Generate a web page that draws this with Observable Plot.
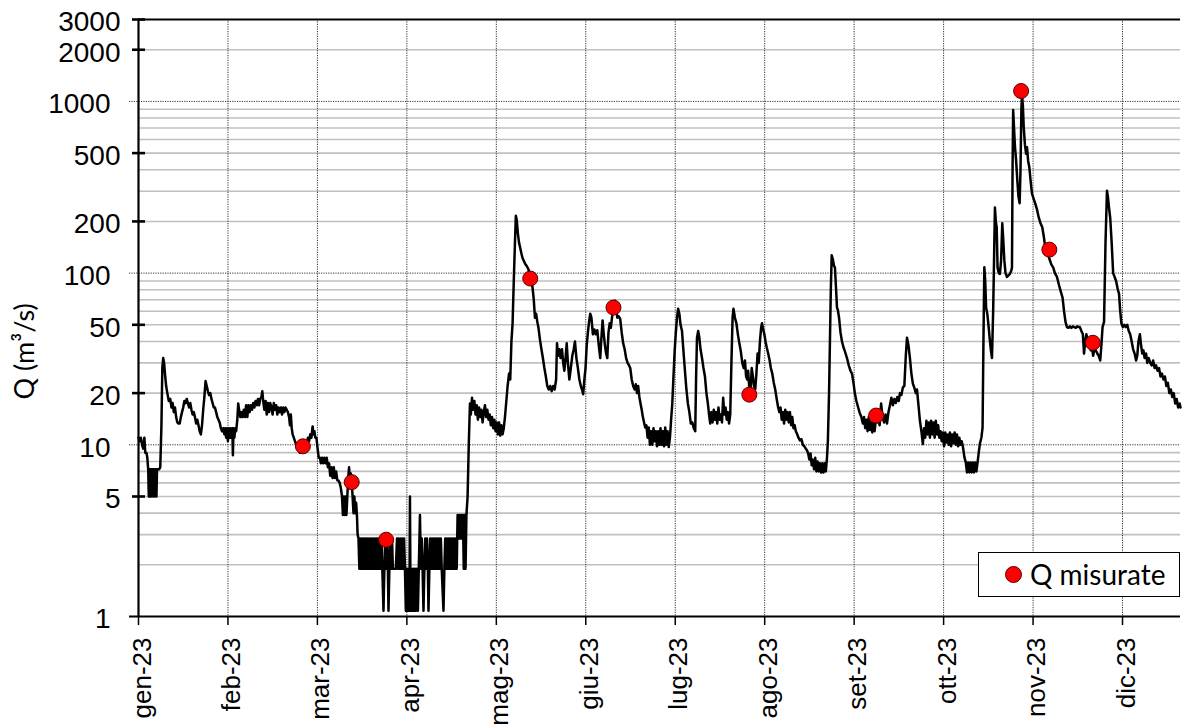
<!DOCTYPE html>
<html><head><meta charset="utf-8">
<script src="https://cdn.jsdelivr.net/npm/d3@7"></script>
<script src="https://cdn.jsdelivr.net/npm/@observablehq/plot@0.6"></script>
<style>
body{margin:0;background:#fff;}
#wrap{position:relative;width:1182px;height:724px;overflow:hidden;}
#legend{position:absolute;left:978px;top:552px;width:200px;height:43px;border:1px solid #000;background:#fff;font-family:Lato,"Open Sans",sans-serif;font-size:28px;color:#000;}
#legend .dot{position:absolute;left:26px;top:13px;width:15px;height:15px;border-radius:50%;background:#ff0000;border:1px solid #5a0000;}
#legend .lab{position:absolute;left:51px;top:2px;line-height:38px;white-space:nowrap;}
</style></head>
<body>
<div id="wrap"><div id="chart"></div>
<div id="legend"><span class="dot"></span><span class="lab">Q misurate</span></div>
</div>
<script>
// month tick labels (equally spaced, 365/12 days apart)
const mesi = ["gen-23","feb-23","mar-23","apr-23","mag-23","giu-23","lug-23","ago-23","set-23","ott-23","nov-23","dic-23"];
// y axis ticks
const yMajor = [1, 10, 100, 1000];
const yLabelsMinor = [5, 20, 50, 200, 500, 2000, 3000];
const yGridMinor = [2,3,4,5,6,7,8,9,20,30,40,50,60,70,80,90,200,300,400,500,600,700,800,900,2000];
// measured discharges: day of year, Q (m3/s)
const misGiorno = [55.9, 72.5, 84.2, 133.2, 161.5, 207.7, 250.8, 300.1, 309.7, 324.5];
const misQ = [9.8, 6.06, 2.8, 93, 63, 19.6, 14.8, 1150, 137, 39.3];
// continuous discharge record: [day of year, Q (m3/s)]
const portata = [
[0,11],[0.4,10.5],[0.8,11],[1.2,10],[1.6,9.5],[2,11],[2.3,9],[2.7,9],[3,8.4],[3.3,7.2],[3.5,5],[3.7,7.2],[3.9,5],[4.1,7.2],[4.3,5],[4.5,7.2],[4.8,7.2],[5,5],[5.2,7.2],[5.4,5],[5.6,7.2],[5.9,7.2],[6.1,5],[6.3,7.2],[6.6,7.2],[7,7.2],[7.4,7.4],[7.8,13],[8.1,28],[8.4,32],[8.7,30],[9,26],[9.4,22],[9.8,20],[10.3,18],[10.8,18.5],[11.2,16.5],[11.6,17.5],[12,15.5],[12.4,16.5],[12.8,14.5],[13.2,13.5],[13.6,13.3],[14,13.3],[14.4,14.5],[14.8,15.5],[15.2,16.5],[15.6,18],[16,17.5],[16.4,18.5],[16.8,17.5],[17.2,16.5],[17.6,17.5],[18,16],[18.4,15],[18.8,15.5],[19.2,14.5],[19.6,13.3],[20,14],[20.4,13],[20.8,12],[21.2,11.5],[21.6,13],[22,16],[22.4,19],[22.8,23.5],[23.2,22],[23.6,20.5],[24,19.5],[24.4,20],[24.8,18.5],[25.2,17.5],[25.6,16.5],[26,16.5],[26.4,15.5],[26.8,14.5],[27.2,14],[27.6,13.5],[28,12.5],[28.4,12],[28.8,12.5],[29.2,11.5],[29.5,12.5],[29.8,11],[30.1,12.5],[30.4,10.5],[30.7,12.5],[31,11],[31.3,12.5],[31.6,11],[31.9,12.5],[32.1,8.7],[32.3,12.5],[32.6,11],[32.9,12.5],[33.2,12],[33.6,14],[33.9,17.4],[34.2,16],[34.6,14.5],[35,15.5],[35.4,14.5],
[35.8,16],[36.2,14.5],[36.6,17],[37,14.5],[37.4,17],[37.8,15.5],[38.2,17],[38.6,16],[39,17.5],[39.4,16.5],[39.8,18],[40.2,17],[40.6,18.5],[41,17],[41.4,18.5],[41.8,19],[42.1,20.5],[42.4,18],[42.8,16],[43.2,18],[43.6,15],[44,17.5],[44.4,15.5],[44.8,17.5],[45.2,16.5],[45.6,15],[46,17.5],[46.4,16],[46.8,17],[47.2,15],[47.6,16.5],[48,15.5],[48.4,16.5],[48.8,15],[49.2,16.5],[49.6,15.5],[50,16.5],[50.4,16],[50.8,15.5],[51.2,14.5],[51.5,13],[51.8,15],[52.1,12.5],[52.4,11.5],[52.8,11],[53.2,10.5],[53.6,10],[54,9.5],[54.4,10],[54.8,9],[55.2,9.5],[55.6,9],[56,9.5],[56.4,9],[56.8,9.5],[57.2,10],[57.6,11],[58,10.5],[58.4,11.5],[58.8,11],[59.2,12.8],[59.5,11.5],[59.8,12],[60.1,11],[60.5,11],[60.9,9.5],[61.3,8.4],
[61.7,8.4],[62,7.8],[62.4,8.4],[62.8,7.8],[63.2,8.4],[63.6,7.8],[64,8.4],[64.4,7.4],[64.8,7.8],[65.2,6.6],[65.6,7.4],[66,6.4],[66.4,7.4],[66.8,6.4],[67.2,7],[67.6,6.2],[68,6.2],[68.4,6],[68.8,5.6],[69.2,5],[69.5,3.9],[69.8,5],[70.1,3.9],[70.4,5],[70.7,3.9],[71,5],[71.3,6.4],[71.6,7.4],[71.9,6.2],[72.2,6.8],[72.5,6],[72.8,5],[73.1,4],[73.4,5],[73.7,4],[74,4.6],[74.3,3.8],[74.5,3],
[74.8,2.85],[75.1,1.9],[75.4,2.85],[75.7,1.9],[76,2.85],[76.3,1.9],[76.6,2.85],[76.9,1.9],[77.2,2.85],[77.5,1.9],[77.8,2.85],[78.1,1.9],[78.4,2.85],[78.7,1.9],[79,2.85],[79.3,1.9],[79.6,2.85],[79.9,1.9],[80.2,2.85],[80.5,1.9],[80.8,2.85],[81.1,1.9],[81.4,2.85],[81.7,1.9],[82,2.85],[82.3,1.9],[82.6,2.85],[82.9,1.9],[83.3,1.08],[83.6,1.9],[83.9,2.85],[84.2,1.9],[84.5,2.85],[84.8,1.9],[85,1.08],[85.3,1.9],[85.6,2.85],[85.9,1.9],[86.2,2.85],[86.5,1.9],[87.5,1.9],
[87.9,2.85],[88.2,1.9],[88.5,2.85],[88.8,1.9],[89.1,2.85],[89.4,1.9],[89.7,2.85],[90,1.9],[90.3,2.85],[90.6,1.9],
[90.9,1.08],[91.2,1.9],[91.5,1.08],[91.8,1.9],[92.1,1.08],[92.3,5],[92.5,1.08],[92.8,1.9],[93.1,1.08],[93.4,1.9],[93.7,1.08],[94,1.9],[94.3,1.08],[94.6,1.9],[95,1.08],[95.3,1.9],[95.7,3.9],[96,1.9],
[96.3,2.85],[96.6,1.9],[96.9,1.08],[97.2,1.9],[97.5,2.85],[97.8,1.9],[98.1,2.85],[98.4,1.9],[98.6,1.08],[98.9,1.9],[99.2,2.85],[99.5,1.9],[99.8,2.85],[100.1,1.9],[100.4,2.85],[100.7,1.9],[101,2.85],[101.3,1.9],[101.6,2.85],[101.9,1.9],[102.2,2.85],[102.5,1.9],[102.8,2.85],[103.1,1.9],[103.7,1.08],[104,1.9],[104.3,2.85],[104.6,1.9],[104.9,2.85],[105.2,1.9],[105.5,2.85],[105.8,1.9],[106.1,2.85],[106.4,1.9],[106.7,2.85],[107,1.9],[107.3,2.85],[107.6,1.9],[107.9,2.85],[108.2,1.9],
[108.5,3.9],[108.8,2.85],[109.1,3.9],[109.4,2.85],[109.7,3.9],[110,2.85],[110.3,3.9],[110.6,1.9],[110.9,3.9],[111.2,1.9],[111.5,3.9],[111.9,5],[112.3,10],[112.7,17.4],[113,15],[113.4,18.8],[113.8,16],[114.2,18],[114.6,15],[115,17],[115.4,14],[115.8,16.5],[116.2,14.5],[116.6,16],[117,13.5],[117.4,15.5],[117.8,17],[118.2,14.5],[118.6,16],[119,14],[119.4,15],[119.8,13],[120.2,14.5],[120.6,12.5],[121,14],[121.4,12],[121.8,13.5],[122.2,11.5],[122.6,13.5],[123,11.3],[123.4,13],[123.8,11.5],[124.2,12.5],[124.6,14.5],[125,17.4],[125.5,22],[126,26],[126.4,24],[126.8,40],[127.2,51],[127.6,90],[128,150],[128.3,216],[128.6,205],[129,170],[129.4,150],[129.8,140],[130.2,130],[130.6,122],[131,118],[131.5,113],[132,110],[132.5,106],[133,100],[133.5,92],[134,82],[134.4,70],[134.8,55],[135.2,58],[135.6,52],[136,48],[136.5,41],[137,36],[137.5,32],[138,28],[138.5,25],[139,22],[139.5,21],[140,22],[140.5,20.5],[141,22],[141.5,21],[142,24],[142.3,39],[142.7,33],[143.1,36],[143.5,32],[144,36],[144.4,30],[144.8,27],[145.2,32],[145.6,39],[146,30],[146.5,24],[147,28],[147.5,33],[148,36],[148.4,40],[148.9,32],[149.4,28],[149.9,24],[150.4,22],[150.8,21],[151.2,19.7],[151.6,24],[152,28],[152.4,38],[152.8,45],[153.2,52],[153.6,58],[154,55],[154.5,44],[155,47],[155.5,44],[156,46.5],[156.5,38],[157,32],[157.4,42],[157.8,53],[158.2,44],[158.6,38],[159,34],[159.4,32],[159.8,45],[160.2,51],[160.6,48],[161,55],[161.5,63],[162,69],[162.4,62],[162.8,55],[163.3,56],[163.8,54],[164.3,45],[164.8,39],[165.3,36],[165.8,32],[166.3,30],[166.8,29],[167.2,28],[167.7,24],[168.2,22],[168.7,21],[169.1,22.5],[169.5,20],[169.9,22],[170.3,19],[170.7,17.4],[171.1,16],[171.5,14.5],[171.9,13.5],[172.3,12.6],[172.7,13],[173.1,11],[173.5,12.6],[173.9,10],[174.3,12],[174.7,10],[175.1,12.5],[175.5,10.5],[175.9,12],[176.3,9.8],[176.7,12],[177.1,10],[177.5,12.5],[177.9,10],[178.3,12],[178.7,9.8],[179.1,12.6],[179.5,10],[179.9,12],[180.3,9.7],[180.7,11],[181.1,14],[181.5,17.4],[181.9,25],[182.3,35],[182.7,45],[183.1,55],[183.5,62],[183.9,58],[184.3,50],[184.8,46],[185.3,35],[185.8,27],[186.3,21],[186.8,17.4],[187.3,15.5],[187.8,13.3],[188.3,13.5],[188.8,12.5],[189.3,12],[189.6,25],[189.9,42],[190.3,46],[190.7,42],[191.1,36],[191.6,32],[192.1,28],[192.6,25],[193.1,20],[193.6,17.4],[194,15],[194.4,13.3],[194.8,15.5],[195.2,13.5],[195.6,16],[196,14],[196.4,15.5],[196.8,13.3],[197.2,16.5],[197.6,14],[198,15],[198.4,13.5],[198.8,18.8],[199.2,15],[199.6,16.5],[200,14],[200.4,15.5],[200.8,13.3],[201.2,15],[201.6,30],[202,55],[202.3,62],[202.8,55],[203.3,51],[203.8,44],[204.3,39],[204.8,35],[205.3,30],[205.8,28],[206.2,31],[206.6,25],[207,24],[207.3,27],[207.7,21],[208.1,20],[208.5,28],[208.9,25],[209.3,22],[209.7,21],[210.1,26],[210.5,34],[210.9,30],[211.3,40],[211.7,48],[212,51],[212.4,47],[212.8,44],[213.2,40],[213.6,37],[214.1,34],[214.6,31],[215,28],[215.5,26],[216,23],[216.5,21],[217,18.5],[217.5,16.5],[217.9,15.5],[218.3,16.5],[218.7,14],[219.1,15.5],[219.5,13.3],[219.9,16],[220.3,14],[220.7,15.5],[221.1,13.5],[221.5,15.5],[221.9,13],[222.3,14.5],[222.7,12.5],[223.1,13],[223.5,12],[223.9,11.6],[224.4,11],[224.9,10.6],[225.4,10.8],[225.9,10],[226.4,9.8],[226.9,9.5],[227.3,9.3],[227.7,8.9],[228.1,8.2],[228.5,8.9],[228.9,7.6],[229.3,8.2],[229.7,7.2],[230.1,8.4],[230.5,7],[230.9,8],[231.3,7],[231.7,7.8],[232.1,6.9],[232.5,7.8],[232.9,6.9],[233.3,7.8],[233.7,7],[234.1,8.4],[234.4,10.5],[234.8,20],[235.1,40],[235.4,80],[235.7,127],[236.1,120],[236.5,110],[236.8,108],[237.2,80],[237.5,63],[237.8,61],[238.2,55],[238.7,45],[239.2,40],[239.7,37],[240.2,35],[240.9,32],[241.5,29],[242.1,27],[242.6,26],[243.1,23],[243.6,19.8],[244.1,18],[244.7,16.5],[245.3,15.2],[245.8,14.5],[246.3,13.3],[246.7,14.5],[247.1,12.5],[247.5,14],[247.9,12],[248.3,14.5],[248.7,12.2],[249.1,13.5],[249.5,11.8],[249.9,13.5],[250.3,12],[250.7,14],[251.1,13.5],[251.5,14.5],[252,13],[252.5,17.4],[253,14.5],[253.5,13.5],[254,15],[254.5,13.3],[255,15.5],[255.5,17],[256,18.8],[256.5,17],[257,18.5],[257.5,17.5],[258,19],[258.5,18],[258.9,20],[259.4,19.5],[259.9,21.6],[260.4,22],[260.9,33],[261.3,42],[261.8,38],[262.3,32],[262.8,26],[263.3,22.7],[263.8,21.5],[264.3,20],[264.7,21],[265.2,17],[265.7,13.8],[266.2,12],[266.7,10.1],[267.1,12.5],[267.5,11],[267.9,13.8],[268.3,11.5],[268.7,13.5],[269.1,11],[269.5,13.8],[269.9,11.5],[270.3,13.5],[270.7,11],[271.1,13.8],[271.5,11.5],[271.9,13],[272.3,11],[272.7,12],[273.1,10.5],[273.5,11.8],[273.9,9.8],[274.3,11.8],[274.7,10.3],[275.1,11.5],[275.5,10],[275.9,11.8],[276.3,9.8],[276.7,11.5],[277.1,10.2],[277.5,11.8],[277.9,10],[278.3,11.5],[278.7,9.8],[279.1,11],[279.5,10],[279.9,10.5],[280.3,9.8],[280.8,8.5],[281.3,7.9],[281.7,6.9],[282.1,7.9],[282.5,6.9],[282.9,7.9],[283.3,6.9],[283.7,7.9],[284.1,6.9],[284.5,7.9],[284.9,7],[285.3,7.9],[285.7,9],[286.1,10.2],[286.6,11],[287,12.6],[287.3,40],[287.6,108],[287.9,90],[288.2,63],[288.6,58],[289,50],[289.4,42],[289.8,36],[290.2,32],[290.6,60],[290.9,119],[291.2,241],[291.5,200],[291.8,185],[292.1,108],[292.5,100],[292.9,99],[293.3,119],[293.7,195],[294,160],[294.4,119],[294.8,100],[295.3,95],[295.8,97],[296.3,99],[296.8,104],[297,108],[297.2,400],[297.4,890],[297.7,700],[298,550],[298.4,455],[298.8,350],[299.2,280],[299.6,255],[299.9,400],[300.2,900],[300.4,1100],[300.7,950],[301,707],[301.4,560],[301.8,495],[302.1,541],[302.5,450],[302.9,414],[303.3,350],[303.8,290],[304.4,270],[304.9,255],[305.5,235],[306.1,211],[306.7,195],[307.3,185],[307.9,160],[308.3,141],[308.8,135],[309.3,128],[309.8,120],[310.4,112],[311,108],[311.6,100],[312.3,95],[313,85],[313.6,78],[314.2,72],[314.7,60],[315.2,52],[315.7,48.5],[316.2,48],[316.7,49],[317.2,48],[317.7,49],[318.2,48.5],[318.7,48],[319.2,49],[319.7,48.5],[320.1,48.5],[320.6,46],[321.1,44],[321.5,34],[321.9,40],[322.3,44],[322.8,40],[323.3,38],[323.8,35.5],[324.2,37],[324.6,33],[325,36],[325.5,35.5],[326,34],[326.5,33],[327,31],[327.4,38],[327.8,48.5],[328.3,52],[328.8,150],[329.3,302],[329.6,280],[330,240],[330.4,210],[330.9,150],[331.4,100],[331.9,95],[332.4,90],[333,80],[333.4,76],[333.8,60],[334.2,51],[334.7,48.5],[335.2,50],[335.7,48.5],[336.2,50],[336.7,46],[337.2,44],[337.7,40],[338.2,36],[338.7,34],[339.2,31],[339.6,33],[340,40],[340.5,44],[340.9,38],[341.3,34],[341.7,35.5],[342.1,32],[342.6,34],[343,30],[343.5,32],[344,30],[344.5,29],[345,31],[345.5,28],[346,29],[346.5,27],[347,28],[347.5,25],[348,26],[348.5,24],[349,25],[349.5,22],[350,23],[350.5,20],[351,21],[351.5,19],[352,20],[352.5,17.4],[353,18.5],[353.5,16.5],[354,17.4],[354.3,16.5]
];

const monthPos = mesi.map((m, i) => i * 365 / 12);
const misurate = misGiorno.map((g, i) => ({giorno: g, q: misQ[i]}));

const chart = Plot.plot({
  width: 1182, height: 724,
  marginLeft: 138, marginRight: 2, marginTop: 19, marginBottom: 108,
  x: {type: "linear", domain: [0, 354.3], axis: null},
  y: {type: "log", domain: [1, 3000], axis: null},
  style: {fontFamily: "'Liberation Sans', Arial, sans-serif", fontSize: "28px", background: "#fff", color: "#000", overflow: "visible"},
  marks: [
    Plot.ruleY(yGridMinor, {stroke: "#c0c0c0", strokeWidth: 1.6}),
    Plot.ruleY(yMajor.slice(1), {stroke: "#333", strokeWidth: 1, strokeDasharray: "1.2,1.2", insetLeft: -9}),
    Plot.ruleX(monthPos.slice(1), {stroke: "#333", strokeWidth: 1, strokeDasharray: "1.2,1.2"}),
    Plot.ruleX(monthPos, {y1: () => 1, y2: () => 1, insetBottom: -9, stroke: "#000", strokeWidth: 1.5}),
    Plot.ruleY([3000], {stroke: "#000", strokeWidth: 2}),
    Plot.ruleY([1], {stroke: "#000", strokeWidth: 2, insetLeft: -9}),
    Plot.ruleX([0], {stroke: "#000", strokeWidth: 2.2}),
    Plot.ruleY(yLabelsMinor, {x1: () => 0, x2: () => 0, insetLeft: -6, insetRight: -7, stroke: "#000", strokeWidth: 2.6}),
    Plot.line(portata, {x: d => d[0], y: d => d[1], stroke: "#000", strokeWidth: 2.5, strokeLinejoin: "round"}),
    Plot.dot(misurate, {x: "giorno", y: "q", r: 7.5, fill: "#ff0000", stroke: "#5a0000", strokeWidth: 1}),
    Plot.text(yLabelsMinor, {frameAnchor: "left", y: d => d, text: d => String(d), textAnchor: "end", dx: -18, dy: 3, fontSize: 28}),
    Plot.text(yMajor, {frameAnchor: "left", y: d => d, text: d => String(d), textAnchor: "end", dx: -28, dy: 3, fontSize: 28}),
    Plot.text(mesi, {x: (d, i) => monthPos[i], frameAnchor: "bottom", text: d => d, rotate: -90, textAnchor: "end", lineAnchor: "bottom", dx: 12, dy: 21, fontSize: 26}),
    Plot.text(["Q (m³/s)"], {frameAnchor: "left", y: () => 35, text: d => d, rotate: -90, textAnchor: "middle", lineAnchor: "middle", dx: -113, fontSize: 27, fontFamily: "Lato, 'Open Sans', sans-serif"})
  ]
});
document.getElementById("chart").appendChild(chart);
</script>
</body></html>
